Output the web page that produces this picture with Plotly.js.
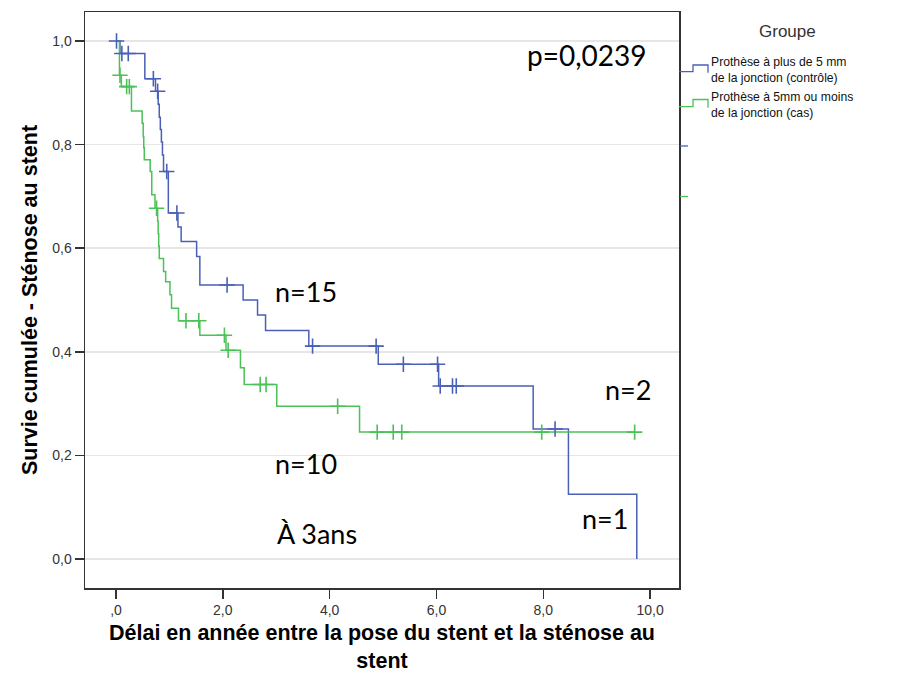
<!DOCTYPE html>
<html>
<head>
<meta charset="utf-8">
<script src="https://cdn.plot.ly/plotly-3.0.1.min.js"></script>
<style>html,body{margin:0;padding:0;background:#fff;}#chart{width:897px;height:673px;}</style>
</head>
<body>
<div id="chart"></div>
<script>
// ---- Data ----
var groupNames = ["Prothèse à plus de 5 mm<br>de la jonction (contrôle)", "Prothèse à 5mm ou moins<br>de la jonction (cas)"];

// Control group (blue): event times and survival after each event
var ctrlTimes = [0, 0.075, 0.54, 0.74, 0.79, 0.81, 0.83, 0.85, 0.87, 0.89, 0.98, 1.16, 1.22, 1.51, 1.57, 2.38, 2.65, 2.80, 3.61, 4.91, 6.04, 7.81, 8.47, 9.75];
var ctrlSurv  = [1.0, 0.976, 0.927, 0.903, 0.878, 0.853, 0.829, 0.805, 0.780, 0.748, 0.668, 0.641, 0.613, 0.584, 0.529, 0.500, 0.471, 0.441, 0.411, 0.376, 0.334, 0.251, 0.125, 0.0];
var ctrlCensT = [0.01, 0.11, 0.23, 0.70, 0.78, 0.95, 1.14, 2.08, 3.68, 4.87, 5.38, 6.02, 6.07, 6.30, 6.37, 8.22];
var ctrlCensS = [1.0, 0.976, 0.976, 0.927, 0.903, 0.748, 0.668, 0.529, 0.411, 0.411, 0.376, 0.376, 0.334, 0.334, 0.334, 0.251];

// Case group (green)
var caseTimes = [0, 0.065, 0.10, 0.29, 0.49, 0.51, 0.52, 0.53, 0.64, 0.67, 0.73, 0.78, 0.79, 0.80, 0.81, 0.89, 0.93, 1.01, 1.04, 1.17, 1.57, 2.06, 2.33, 2.40, 3.01, 4.56, 9.72];
var caseSurv  = [1.0, 0.934, 0.912, 0.865, 0.841, 0.815, 0.794, 0.771, 0.748, 0.703, 0.677, 0.652, 0.628, 0.604, 0.580, 0.555, 0.535, 0.510, 0.484, 0.460, 0.432, 0.403, 0.369, 0.337, 0.295, 0.245, 0.245];
var caseCensT = [0.075, 0.20, 0.25, 0.76, 1.31, 1.55, 2.03, 2.10, 2.70, 2.81, 4.15, 4.89, 5.19, 5.35, 7.97, 9.71];
var caseCensS = [0.934, 0.912, 0.912, 0.677, 0.460, 0.460, 0.432, 0.403, 0.337, 0.337, 0.295, 0.245, 0.245, 0.245, 0.245, 0.245];

var xTickVals = [0, 2, 4, 6, 8, 10];
var xTickText = [",0", "2,0", "4,0", "6,0", "8,0", "10,0"];
var yTickVals = [0, 0.2, 0.4, 0.6, 0.8, 1.0];
var yTickText = ["0,0", "0,2", "0,4", "0,6", "0,8", "1,0"];

var notes = [
  {t: "p=0,0239", x: 8.82, y: 0.973, s: 28},
  {t: "n=15", x: 3.56, y: 0.517, s: 27},
  {t: "n=10", x: 3.56, y: 0.185, s: 27},
  {t: "À 3ans", x: 3.76, y: 0.050, s: 27},
  {t: "n=2", x: 9.59, y: 0.328, s: 27},
  {t: "n=1", x: 9.16, y: 0.079, s: 27}
];

// ---- Styling ----
var BLUE = "#4a60b8";
var GREEN = "#4cc158";
var ARIAL = "Liberation Sans, Arial, sans-serif";

// plot area in pixels
var L = 85, R = 679, T = 12, B = 588, W = 897, H = 673;
function px(x) { return (x - L) / (R - L); }
function py(y) { return (B - y) / (B - T); }

var traces = [
  {x: ctrlTimes, y: ctrlSurv, mode: "lines", line: {shape: "hv", color: BLUE, width: 1.5}, hoverinfo: "skip"},
  {x: caseTimes, y: caseSurv, mode: "lines", line: {shape: "hv", color: GREEN, width: 1.5}, hoverinfo: "skip"},
  {x: ctrlCensT, y: ctrlCensS, mode: "markers", marker: {symbol: "cross-thin", size: 11, color: BLUE, line: {color: BLUE, width: 1.6}}, hoverinfo: "skip"},
  {x: caseCensT, y: caseCensS, mode: "markers", marker: {symbol: "cross-thin", size: 11, color: GREEN, line: {color: GREEN, width: 1.6}}, hoverinfo: "skip"}
];

var annotations = notes.map(function (n) {
  return {text: n.t, x: n.x, y: n.y, xref: "x", yref: "y", showarrow: false,
          xanchor: "center", yanchor: "middle",
          font: {family: "Lato, 'Open Sans', sans-serif", size: n.s, color: "#000"}};
});

// legend title and entries (manual, SPSS-like)
annotations.push({text: "Groupe", xref: "paper", yref: "paper", x: px(787), y: py(32),
  xanchor: "center", yanchor: "middle", showarrow: false,
  font: {family: ARIAL, size: 17, color: "#333"}});
annotations.push({text: groupNames[0], xref: "paper", yref: "paper", x: px(709), y: py(70),
  xanchor: "left", yanchor: "middle", align: "left", showarrow: false,
  font: {family: ARIAL, size: 12.2, color: "#111"}});
annotations.push({text: groupNames[1], xref: "paper", yref: "paper", x: px(709), y: py(105),
  xanchor: "left", yanchor: "middle", align: "left", showarrow: false,
  font: {family: ARIAL, size: 12.2, color: "#111"}});

function stepIcon(yLow, yHigh, color) {
  var p = "M" + px(679) + "," + py(yLow) + " L" + px(693) + "," + py(yLow) +
          " L" + px(693) + "," + py(yHigh) + " L" + px(708) + "," + py(yHigh) +
          " L" + px(708) + "," + py(yLow + 1);
  return {type: "path", xref: "paper", yref: "paper", path: p, line: {color: color, width: 1.3}};
}
var shapes = [
  stepIcon(71.7, 65, BLUE),
  stepIcon(106.7, 99.5, GREEN),
  {type: "line", xref: "paper", yref: "paper", x0: px(680), x1: px(688), y0: py(146), y1: py(146), line: {color: BLUE, width: 1.3}},
  {type: "line", xref: "paper", yref: "paper", x0: px(680), x1: px(688), y0: py(196.5), y1: py(196.5), line: {color: GREEN, width: 1.3}}
];

var layout = {
  width: W, height: H,
  margin: {l: L, r: W - R, t: T, b: H - B, pad: 0},
  paper_bgcolor: "#fff", plot_bgcolor: "#fff",
  showlegend: false,
  font: {family: ARIAL, size: 14, color: "#333"},
  xaxis: {
    range: [-0.58, 10.54], tickvals: xTickVals, ticktext: xTickText,
    ticks: "outside", ticklen: 9, tickwidth: 1.5, tickcolor: "#333",
    showgrid: false, zeroline: false,
    showline: true, mirror: true, linecolor: "#333", linewidth: 1.5,
    tickfont: {family: ARIAL, size: 14, color: "#333"},
    title: {text: "<b>Délai en année entre la pose du stent et la sténose au<br>stent</b>", standoff: 12,
            font: {family: ARIAL, size: 21.5, color: "#000"}}
  },
  yaxis: {
    range: [-0.056, 1.056], tickvals: yTickVals, ticktext: yTickText,
    ticks: "outside", ticklen: 9, tickwidth: 1.5, tickcolor: "#333",
    showgrid: true, gridcolor: "#e6e6e6", gridwidth: 1.5, zeroline: false,
    showline: true, mirror: true, linecolor: "#333", linewidth: 1.5,
    tickfont: {family: ARIAL, size: 14, color: "#333"},
    title: {text: "<b>Survie cumulée - Sténose au stent</b>", standoff: 8,
            font: {family: ARIAL, size: 21.5, color: "#000"}}
  },
  annotations: annotations,
  shapes: shapes
};

Plotly.newPlot("chart", traces, layout, {displayModeBar: false, staticPlot: true});
</script>
</body>
</html>
